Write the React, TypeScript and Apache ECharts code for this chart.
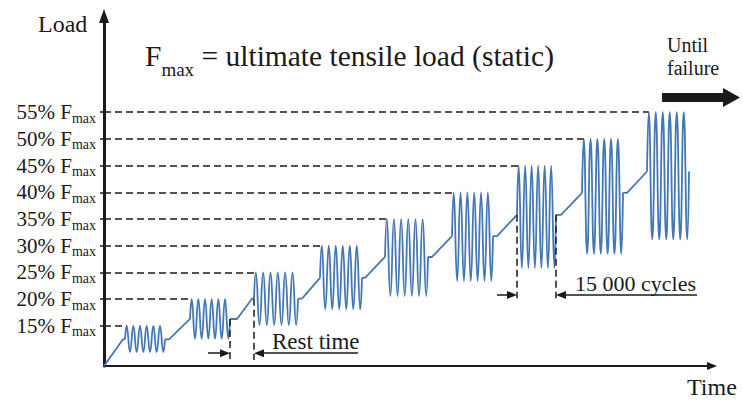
import React, { useEffect, useRef } from 'react';
import * as echarts from 'echarts';

// Load levels of each fatigue block, in % of Fmax
const levelPct = [15, 20, 25, 30, 35, 40, 45, 50, 55];

// Fatigue blocks: start/end time, mean load and valley load (% Fmax)
const blockStart = [21, 86, 150, 216, 281, 348, 413, 478, 543];
const blockEnd = [61, 126, 194, 258, 324, 389, 452, 519, 585];
const blockMean = [12.5, 16.3, 20.1, 24.0, 27.9, 31.8, 35.8, 39.9, 43.9];
const blockValley = [10.1, 12.6, 15.2, 18.1, 20.6, 23.4, 25.8, 28.5, 31.2];
const cyclesPerBlock = 6;

// Static ramps and rest periods between blocks: [time, load %]
const rampSegments: number[][][] = [
  [[0, 7.5], [19, 12.5], [21, 12.5]],
  [[61, 12.5], [65, 12.5], [86, 16.3]],
  [[126, 16.3], [133, 16.3], [148, 20.1], [150, 20.1]],
  [[194, 20.1], [198, 20.1], [216, 24.0]],
  [[258, 24.0], [261, 24.0], [281, 27.9]],
  [[324, 27.9], [328, 27.9], [348, 31.8]],
  [[389, 31.8], [393, 31.8], [413, 35.8]],
  [[452, 35.8], [457, 35.8], [478, 39.9]],
  [[519, 39.9], [523, 39.9], [543, 43.9]],
];

// Annotation: rest time between block 2 and block 3
const restBlock = 1;
const restArrowLoad = 9.9;
const restDropLoad = 8.6;
const restTailLeft = 104;
const restTailRight = 254;

// Annotation: 15 000 cycles over block 7
const cycleBlock = 6;
const cycleArrowLoad = 20.8;
const cycleDropLoad = 20.2;
const cycleTailLeft = 393;
const cycleTailRight = 593;

const TIME_MAX = 608;
const LOAD_MIN = 7.5;
const LOAD_MAX = 73;

const WAVE = '#4378b5';
const INK = '#1a1a1a';
const SERIF = '"Liberation Serif", "Times New Roman", serif';
const ARROW_HALF = 5;

function blockPoints(i: number): number[][] {
  const T = (blockEnd[i] - blockStart[i]) / cyclesPerBlock;
  const pts: number[][] = [[blockStart[i], blockMean[i]]];
  for (let c = 0; c < cyclesPerBlock; c++) {
    pts.push([blockStart[i] + (c + 0.25) * T, levelPct[i]]);
    pts.push([blockStart[i] + (c + 0.75) * T, blockValley[i]]);
  }
  pts.push([blockEnd[i], blockMean[i]]);
  return pts;
}

function firstPeak(i: number): number {
  return blockStart[i] + 0.25 * (blockEnd[i] - blockStart[i]) / cyclesPerBlock;
}

const dashed = { type: [7, 4] as any, color: INK, width: 1.5 };

const option: any = {
  animation: false,
  backgroundColor: '#ffffff',
  grid: { left: 104, right: 31, top: 16, bottom: 37, containLabel: false },
  xAxis: {
    type: 'value',
    min: 0,
    max: TIME_MAX,
    axisLine: {
      show: true,
      onZero: false,
      symbol: ['none', 'triangle'],
      symbolSize: [8, 10],
      lineStyle: { color: INK, width: 2 },
    },
    axisTick: { show: false },
    axisLabel: { show: false },
    splitLine: { show: false },
  },
  yAxis: {
    type: 'value',
    min: LOAD_MIN,
    max: LOAD_MAX,
    axisLine: {
      show: true,
      onZero: false,
      symbol: ['none', 'triangle'],
      symbolSize: [10, 14],
      lineStyle: { color: INK, width: 3 },
    },
    axisTick: {
      show: true,
      customValues: levelPct,
      length: 4,
      lineStyle: { color: INK, width: 1.5 },
    },
    axisLabel: {
      show: true,
      customValues: levelPct,
      margin: 8,
      formatter: (v: number) => `{n|${v}% F}{s|max}`,
      rich: {
        n: { fontFamily: SERIF, fontSize: 21, color: INK, lineHeight: 22 },
        s: { fontFamily: SERIF, fontSize: 14, color: INK, lineHeight: 14, padding: [12, 0, 0, 0] },
      },
    },
    splitLine: { show: false },
  },
  graphic: [
    {
      type: 'text',
      x: 38,
      y: 24,
      style: {
        text: 'Load',
        fontFamily: SERIF,
        fontSize: 24,
        fill: INK,
        verticalAlign: 'middle',
        textVerticalAlign: 'middle',
      },
    },
    {
      type: 'text',
      x: 687,
      y: 387,
      style: {
        text: 'Time',
        fontFamily: SERIF,
        fontSize: 24,
        fill: INK,
        verticalAlign: 'middle',
        textVerticalAlign: 'middle',
      },
    },
    {
      type: 'text',
      x: 145,
      y: 56,
      style: {
        text: '{f|F}{s|max}{f| = ultimate tensile load (static)}',
        fill: INK,
        verticalAlign: 'middle',
        textVerticalAlign: 'middle',
        rich: {
          f: { fontFamily: SERIF, fontSize: 29.5, fill: INK, lineHeight: 32 },
          s: { fontFamily: SERIF, fontSize: 19, fill: INK, lineHeight: 18, padding: [26, 0, 0, 0] },
        },
      },
    },
    {
      type: 'text',
      x: 667,
      y: 45,
      style: { text: 'Until', fontFamily: SERIF, fontSize: 20, fill: INK, verticalAlign: 'middle', textVerticalAlign: 'middle' },
    },
    {
      type: 'text',
      x: 667,
      y: 68,
      style: { text: 'failure', fontFamily: SERIF, fontSize: 20, fill: INK, verticalAlign: 'middle', textVerticalAlign: 'middle' },
    },
    {
      type: 'polygon',
      shape: {
        points: [[662, 93], [723, 93], [723, 88], [740, 97.5], [723, 107], [723, 102], [662, 102]],
      },
      style: { fill: INK },
    },
    {
      type: 'text',
      x: 272,
      y: 341,
      style: { text: 'Rest time', fontFamily: SERIF, fontSize: 23, fill: INK, verticalAlign: 'middle', textVerticalAlign: 'middle' },
    },
    {
      type: 'text',
      x: 575,
      y: 283,
      style: { text: '15 000 cycles', fontFamily: SERIF, fontSize: 22, fill: INK, verticalAlign: 'middle', textVerticalAlign: 'middle' },
    },
  ],
  series: [
    ...rampSegments.map((seg, i) => ({
      name: `ramp-${i + 1}`,
      type: 'line',
      data: seg,
      symbol: 'none',
      silent: true,
      lineStyle: { color: WAVE, width: 1.8 },
      z: 3,
    })),
    ...levelPct.map((_, i) => ({
      name: `block-${i + 1}`,
      type: 'line',
      data: blockPoints(i),
      symbol: 'none',
      smooth: 0.5,
      silent: true,
      lineStyle: { color: WAVE, width: 1.8 },
      z: 3,
    })),
    {
      name: 'levels',
      type: 'line',
      data: [],
      silent: true,
      z: 2,
      markLine: {
        silent: true,
        animation: false,
        symbol: ['none', 'none'],
        label: { show: false },
        lineStyle: dashed,
        data: levelPct.map((p, i) => [{ coord: [0, p] }, { coord: [firstPeak(i), p] }]),
      },
    },
    {
      name: 'drops',
      type: 'line',
      data: [],
      silent: true,
      z: 4,
      markLine: {
        silent: true,
        animation: false,
        symbol: ['none', 'none'],
        label: { show: false },
        lineStyle: dashed,
        data: [
          [{ coord: [blockEnd[restBlock], blockMean[restBlock]] }, { coord: [blockEnd[restBlock], restDropLoad] }],
          [{ coord: [blockStart[restBlock + 1], blockMean[restBlock + 1]] }, { coord: [blockStart[restBlock + 1], restDropLoad] }],
          [{ coord: [blockStart[cycleBlock], blockMean[cycleBlock]] }, { coord: [blockStart[cycleBlock], cycleDropLoad] }],
          [{ coord: [blockEnd[cycleBlock], blockMean[cycleBlock]] }, { coord: [blockEnd[cycleBlock], cycleDropLoad] }],
        ],
      },
    },
    {
      name: 'spans',
      type: 'line',
      data: [],
      silent: true,
      z: 4,
      markLine: {
        silent: true,
        animation: false,
        symbol: ['none', 'triangle'],
        symbolSize: [8, 10],
        label: { show: false },
        lineStyle: { type: 'solid', color: INK, width: 1.5 },
        data: [
          [{ coord: [restTailLeft, restArrowLoad] }, { coord: [blockEnd[restBlock] - ARROW_HALF, restArrowLoad] }],
          [{ coord: [restTailRight, restArrowLoad] }, { coord: [blockStart[restBlock + 1] + ARROW_HALF, restArrowLoad] }],
          [{ coord: [cycleTailLeft, cycleArrowLoad] }, { coord: [blockStart[cycleBlock] - ARROW_HALF, cycleArrowLoad] }],
          [{ coord: [cycleTailRight, cycleArrowLoad] }, { coord: [blockEnd[cycleBlock] + ARROW_HALF, cycleArrowLoad] }],
        ],
      },
    },
  ],
};

export default function App() {
  const ref = useRef<HTMLDivElement>(null);
  useEffect(() => {
    document.body.style.margin = '0';
    const chart = echarts.init(ref.current as HTMLDivElement, null, { renderer: 'svg' });
    chart.setOption(option);
    return () => chart.dispose();
  }, []);
  return <div ref={ref} style={{ width: 743, height: 403, background: '#ffffff' }} />;
}
